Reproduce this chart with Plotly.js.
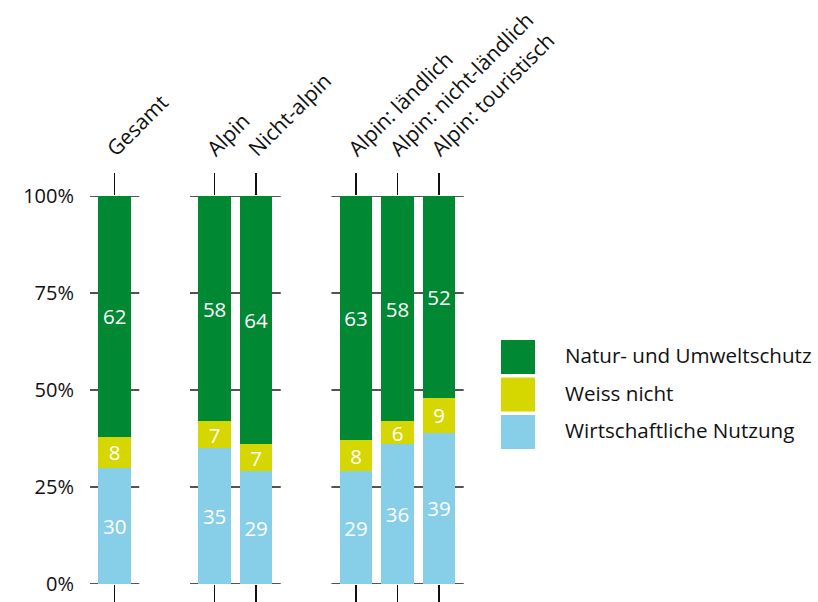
<!DOCTYPE html>
<html>
<head>
<meta charset="utf-8">
<script src="https://cdn.plot.ly/plotly-3.0.1.min.js"></script>
<style>html,body{margin:0;padding:0;background:#fff;}#chart{width:818px;height:602px;}</style>
</head>
<body>
<div id="chart"></div>
<script>
// ---- data ----
const categories = ['Gesamt', 'Alpin', 'Nicht-alpin', 'Alpin: ländlich', 'Alpin: nicht-ländlich', 'Alpin: touristisch'];
const groups = [0, 1, 1, 2, 2, 2];
const wirtschaft = [30, 35, 29, 29, 36, 39];
const weissNicht = [8, 7, 7, 8, 6, 9];
const natur = [62, 58, 64, 63, 58, 52];
const seriesNames = ['Natur- und Umweltschutz', 'Weiss nicht', 'Wirtschaftliche Nutzung'];
const yTickVals = [0, 25, 50, 75, 100];
const yTickText = ['0%', '25%', '50%', '75%', '100%'];

// ---- styling / layout helpers ----
const colors = {natur: '#008833', weiss: '#D6D600', wirtschaft: '#87CEE8'};
const FONT = '"Open Sans", "Noto Sans", sans-serif';
const groupGap = 1.41;
const barWidth = 0.78;
const gridExt = 0.594;
const xpos = categories.map((c, i) => i + groups[i] * groupGap);
const xRange = [-gridExt, 8.566];

const L = 90, R = 470, T = 196, B = 584; // plot area pixels
const px = x => (x - L) / (R - L);
const py = y => (B - y) / (B - T);

function barTrace(vals, name, color) {
  return {
    type: 'bar', x: xpos, y: vals, name: name, width: barWidth,
    marker: {color: color, line: {width: 0}},
    text: vals.map(String), textposition: 'inside', insidetextanchor: 'middle',
    constraintext: 'none', textangle: 0,
    textfont: {family: FONT, size: 20.5, color: '#ffffff'},
    showlegend: false, hoverinfo: 'y'
  };
}

const traces = [
  barTrace(wirtschaft, seriesNames[2], colors.wirtschaft),
  barTrace(weissNicht, seriesNames[1], colors.weiss),
  barTrace(natur, seriesNames[0], colors.natur),
  {type: 'scatter', x: [], y: [], xaxis: 'x2', yaxis: 'y', showlegend: false, hoverinfo: 'skip'}
];

// group-local gridlines
const shapes = [];
const groupIds = [...new Set(groups)];
groupIds.forEach(g => {
  const ps = xpos.filter((p, i) => groups[i] === g);
  const x0 = Math.min(...ps) - gridExt, x1 = Math.max(...ps) + gridExt;
  yTickVals.forEach(v => {
    shapes.push({type: 'line', xref: 'x', yref: 'y', x0: x0, x1: x1, y0: v, y1: v,
      line: {color: '#1a1a1a', width: 1.5}, layer: 'below'});
  });
});

// manual legend (large square swatches)
const legendItems = [
  {name: seriesNames[0], color: colors.natur},
  {name: seriesNames[1], color: colors.weiss},
  {name: seriesNames[2], color: colors.wirtschaft}
];
const annotations = [];
legendItems.forEach((it, k) => {
  const top = 340 + k * 37.5;
  shapes.push({type: 'rect', xref: 'paper', yref: 'paper',
    x0: px(501), x1: px(535), y0: py(top), y1: py(top + 34),
    fillcolor: it.color, line: {width: 0}});
  annotations.push({xref: 'paper', yref: 'paper', x: px(563), y: py(top + 15),
    xanchor: 'left', yanchor: 'middle', showarrow: false, text: it.name,
    font: {family: FONT, size: 20.6, color: '#111111'}});
});

const layout = {
  width: 818, height: 602,
  margin: {l: L, r: 818 - R, t: T, b: 602 - B, pad: 0},
  paper_bgcolor: '#ffffff', plot_bgcolor: 'rgba(0,0,0,0)',
  barmode: 'stack', bargap: 0,
  showlegend: false,
  font: {family: FONT, size: 20, color: '#111111'},
  xaxis: {
    range: xRange, tickvals: xpos, showticklabels: false,
    ticks: 'outside', ticklen: 18, tickwidth: 1.5, tickcolor: '#111111',
    showgrid: false, zeroline: false, showline: false, fixedrange: true
  },
  xaxis2: {
    overlaying: 'x', side: 'top', anchor: 'y', matches: 'x',
    range: xRange, tickvals: xpos, ticktext: categories,
    ticks: 'outside', ticklen: 22, tickwidth: 1.5, tickcolor: '#111111',
    tickangle: -45, tickfont: {family: FONT, size: 21, color: '#111111'},
    ticklabelshift: -6, ticklabelstandoff: 4,
    showgrid: false, zeroline: false, showline: false
  },
  yaxis: {
    range: [0, 100], tickvals: yTickVals, ticktext: yTickText,
    ticks: 'outside', ticklen: 11, tickcolor: 'rgba(0,0,0,0)',
    tickfont: {family: FONT, size: 20, color: '#111111'},
    showgrid: false, zeroline: false, showline: false
  },
  shapes: shapes,
  annotations: annotations
};

Plotly.newPlot('chart', traces, layout, {displayModeBar: false, staticPlot: true});
</script>
</body>
</html>
